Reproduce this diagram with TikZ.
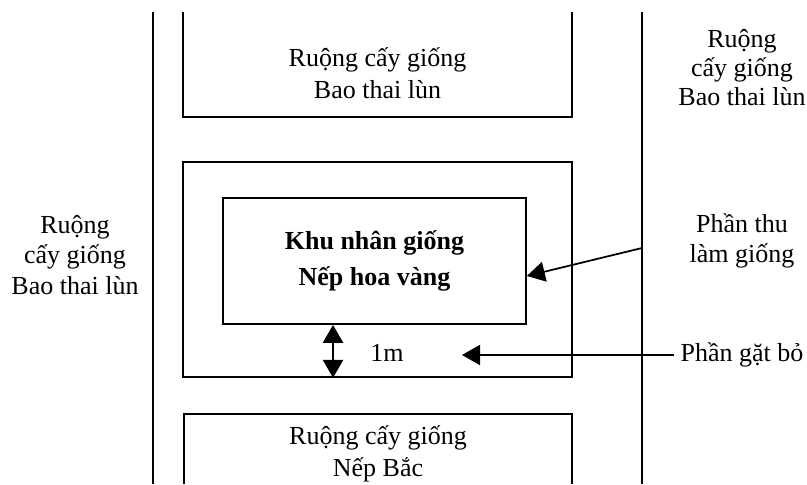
\documentclass[tikz,border=0pt]{standalone}
\usepackage{fontspec}
\setmainfont{Liberation Serif}
\usetikzlibrary{arrows.meta}

\begin{document}
\begin{tikzpicture}[
    x=0.02cm, y=-0.02cm,
    field/.style={
        draw,
        line width=1pt
    },
    txt/.style={
        align=center,
        font=\fontsize{14.8}{18}\selectfont
    },
    pointer/.style={-{Triangle[length=0.36cm, width=0.4cm]}, line width=1pt},
    span/.style={{Triangle[length=0.36cm, width=0.4cm]}-{Triangle[length=0.36cm, width=0.4cm]}, line width=1.4pt},
    border/.style={line width=1.5pt}
]
\useasboundingbox (0,0) rectangle (807,484);

% ===== Field borders =====
\draw[border] (153,12) -- (153,484);
\draw[border] (642,12) -- (642,484);

% ===== Top and bottom fields =====
\draw[field] (183,12) -- (183,117) -- (572,117) -- (572,12);
\node[txt] (topfield) at (377.5,73) {Ruộng cấy giống\\Bao thai lùn};

\draw[field] (184,484) -- (184,414) -- (572,414) -- (572,484);
\node[txt] (botfield) at (378,454) {Ruộng cấy giống\\Nếp Bắc};

% ===== Side fields =====
\node[txt, font=\fontsize{14.8}{17.5}\selectfont] (leftfield) at (75,255) {Ruộng\\cấy giống\\Bao thai lùn};
\node[txt, font=\fontsize{14.8}{16.5}\selectfont] (rightfield) at (742,68) {Ruộng\\cấy giống\\Bao thai lùn};

% ===== Seed plot =====
\node[field, minimum width=7.78cm, minimum height=4.3cm] (trim) at (377.5,269.5) {};
\node[field, minimum width=6.06cm, minimum height=2.52cm, txt, font=\bfseries\fontsize{14.8}{20.5}\selectfont] (nursery) at (374.5,261) {Khu nhân giống\\Nếp hoa vàng};

\draw[span] ([xshift=-0.83cm]nursery.south) -- ([xshift=-0.83cm]nursery.south |- trim.south);
\node[txt] (gap) at (387,353) {1m};

% ===== Labels and arrows =====
\node[txt, font=\fontsize{14.8}{17}\selectfont] (keep) at (742,241) {Phần thu\\làm giống};
\coordinate (keepend) at (642,248);
\draw[pointer] (keepend) -- ([yshift=-0.3cm]nursery.east);

\node[txt] (cut) at (742,355) {Phần gặt bỏ};
\coordinate (cutend) at (462,355);
\draw[pointer] (cut.west) -- (cutend);

\end{tikzpicture}
\end{document}
